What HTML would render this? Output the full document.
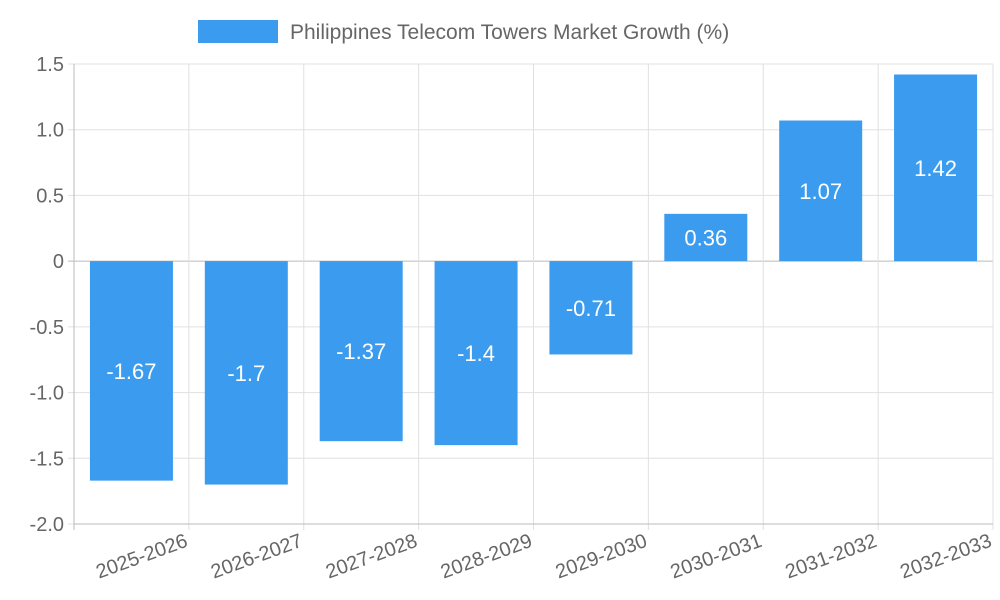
<!DOCTYPE html>
<html><head><meta charset="utf-8"><style>
html,body{margin:0;padding:0;background:#fff;}
svg{display:block;font-family:"Liberation Sans",sans-serif;}
</style></head><body>
<svg id="chart" width="1000" height="600">
<g>
<rect x="198" y="20" width="80" height="23" fill="#3a9bef"></rect>
<text x="290" y="39" font-size="21" fill="#666">Philippines Telecom Towers Market Growth (%)</text>
</g>
</svg>
<script>
const categories=["2025-2026","2026-2027","2027-2028","2028-2029","2029-2030","2030-2031","2031-2032","2032-2033"];
const values=[-1.67,-1.7,-1.37,-1.4,-0.71,0.36,1.07,1.42];
const yTicks=[1.5,1.0,0.5,0,-0.5,-1.0,-1.5,-2.0];
const yTickLabels=["1.5","1.0","0.5","0","-0.5","-1.0","-1.5","-2.0"];
const svg=document.getElementById('chart');
const NS='http://www.w3.org/2000/svg';
const L=74,R=993,T=64,B=524,yMax=1.5,yMin=-2.0;
const y=v=>T+(yMax-v)/(yMax-yMin)*(B-T);
const bw=(R-L)/categories.length;
const x=i=>L+bw*i;
function mk(tag,attrs){const e=document.createElementNS(NS,tag);for(const k in attrs)e.setAttribute(k,attrs[k]);svg.appendChild(e);return e;}
yTicks.forEach((t,i)=>{
 const g=mk('line',{x1:L-6,x2:R,y1:y(t),y2:y(t),stroke:t===0?'#bbb':'#e0e0e0','stroke-width':1});
 
 
 const tx=mk('text',{x:L-10,y:y(t)+7,'text-anchor':'end','font-size':20,fill:'#666'});
 tx.textContent=yTickLabels[i];
 
 
});
for(let i=0;i<=categories.length;i++){
 const g=mk('line',{x1:x(i),x2:x(i),y1:T,y2:B+6,stroke:i===0?'#bbb':'#e0e0e0','stroke-width':1});
 
 
}
const ax=mk('line',{x1:L,x2:R,y1:B,y2:B,stroke:'#bbb'});


categories.forEach((c,i)=>{
 const cx=x(i)+bw/2, v=values[i];
 const top=Math.min(y(v),y(0)), h=Math.abs(y(v)-y(0));
 const r=mk('rect',{x:cx-41.5,y:top,width:83,height:h,fill:'#3a9bef'});
 
 
 const vl=mk('text',{x:cx,y:top+h/2+8,'text-anchor':'middle','font-size':22,fill:'#fff'});
 vl.textContent=String(v);
 
 
 const lx=x(i)+bw, ly=B+22;
 const tl=mk('text',{x:lx,y:ly,'text-anchor':'end','font-size':20,fill:'#666',transform:`rotate(-20 ${lx} ${ly})`});
 tl.textContent=c;
 
 
});
</script>
</body></html>
